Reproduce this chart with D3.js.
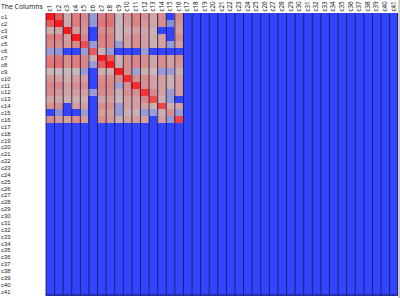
<!DOCTYPE html>
<html>
<head>
<meta charset="utf-8">
<script src="https://cdn.jsdelivr.net/npm/d3@7"></script>
<style>
html,body{margin:0;padding:0;background:#fff;}
svg{display:block;}
</style>
</head>
<body>
<svg id="chart" width="400" height="298"></svg>
<script>
const title = "The Columns";
const categories = d3.range(1, 42).map(i => "c" + i);
// correlation values for the variables that have data (c1..c16)
const matrix = [
  [1, .6, .1, .4, .35, -.3, .4, .45, .05, .25, .35, .3, .15, .3, -1, .3],
  [.6, 1, .15, .4, .3, -.35, .45, .5, .05, .2, .35, .25, .15, .3, -.4, .25],
  [.1, .15, 1, .2, .25, -1, .3, .3, .05, .1, .2, .15, .1, -1, -1, .2],
  [.4, .4, .2, 1, .35, -1, .4, .4, .05, .2, .3, .2, .1, .2, -1, .3],
  [.35, .3, .25, .35, .7, -.3, .35, .35, -.3, .2, .3, .2, .1, .2, -.3, .2],
  [-.3, -.35, -1, -1, -.3, .6, .1, -.3, -1, -1, -1, -.3, -1, -1, -1, -1],
  [.4, .45, .3, .4, .35, .1, 1, .6, .1, .3, .35, .3, .15, .3, .2, .3],
  [.45, .5, .3, .4, .35, -.3, .6, 1, .1, .3, .35, .3, .2, .3, .2, .25],
  [.05, .05, .05, .05, -.3, -1, .1, .1, 1, .3, -.25, .1, .05, -.3, -.3, .1],
  [.25, .2, .1, .2, .2, -1, .3, .3, .3, .9, .3, .3, .2, .2, .1, .2],
  [.35, .35, .2, .3, .3, -1, .35, .35, -.25, .3, .9, .3, .2, .2, .1, .2],
  [.3, .25, .15, .2, .2, -.3, .3, .3, .1, .3, .3, .85, .35, .2, -.3, .2],
  [.15, .15, .1, .1, .1, -1, .15, .2, .05, .2, .2, .35, .7, .1, -.3, -1],
  [.3, .3, -1, .2, .2, -1, .3, .3, -.3, .2, .2, .2, .1, .75, .1, .2],
  [-1, -.4, -1, -1, -.3, -1, .2, .2, -.3, .1, .1, -.3, -.3, .1, .3, -.3],
  [.3, .25, .2, .3, .2, -1, .3, .25, .1, .2, .2, .2, -1, .2, -.3, .75]
];
const missingColor = "#3344ff";

const svg = d3.select("#chart");
const x = d3.scaleBand().domain(categories).range([45.5, 397.7]).padding(0);
const y = d3.scaleBand().domain(categories).range([13.3, 295]).padding(0);
const color = d3.scaleLinear().domain([-1, 0, 1]).range(["#3344ff", "#c8c0c0", "#ff1a1a"]).clamp(true);

const cells = [];
categories.forEach((r, i) => categories.forEach((c, j) => {
  const v = (matrix[i] && matrix[i][j] !== undefined) ? matrix[i][j] : null;
  cells.push({r, c, v});
}));

svg.append("g").attr("shape-rendering", "crispEdges").selectAll("rect").data(cells).join("rect")
  .attr("x", d => x(d.c))
  .attr("y", d => y(d.r))
  .attr("width", x.bandwidth() + 0.6)
  .attr("height", y.bandwidth() + 0.6)
  .attr("fill", d => d.v === null ? missingColor : color(d.v));

// vertical column separators
svg.append("g").selectAll("line").data(categories).join("line")
  .attr("x1", d => x(d) + 0.5).attr("x2", d => x(d) + 0.5)
  .attr("y1", y.range()[0]).attr("y2", y.range()[1])
  .attr("stroke", "#1a1a50").attr("stroke-opacity", 0.85).attr("stroke-width", 1);
svg.append("line")
  .attr("x1", x.range()[1]).attr("x2", x.range()[1])
  .attr("y1", y.range()[0]).attr("y2", y.range()[1])
  .attr("stroke", "#1a1a50").attr("stroke-width", 1);
svg.append("line")
  .attr("x1", x.range()[0]).attr("x2", x.range()[1])
  .attr("y1", y.range()[1]).attr("y2", y.range()[1])
  .attr("stroke", "#1a1a50").attr("stroke-width", 1);

// right border strip
svg.append("rect").attr("x", 398.3).attr("y", 0).attr("width", 2).attr("height", 298).attr("fill", "#c8c8c0");

// title
svg.append("text").attr("x", 1).attr("y", 9)
  .attr("font-family", "Noto Sans, sans-serif").attr("font-size", 6.8).attr("fill", "#222")
  .text(title);

// row labels
svg.append("g").selectAll("text").data(categories).join("text")
  .attr("x", 1)
  .attr("y", d => y(d) + y.bandwidth() / 2)
  .attr("dy", "0.36em")
  .attr("font-family", "Liberation Sans, Arial, sans-serif").attr("font-size", 5.9).attr("fill", "#222")
  .text(d => d);

// column labels (rotated)
svg.append("g").selectAll("text").data(categories).join("text")
  .attr("transform", d => `translate(${x(d) + x.bandwidth() / 2},11.5) rotate(-90)`)
  .attr("dy", "0.35em")
  .attr("text-anchor", "start")
  .attr("font-family", "Noto Sans, sans-serif").attr("font-size", 6.3).attr("fill", "#222")
  .text(d => d);
</script>
</body>
</html>
